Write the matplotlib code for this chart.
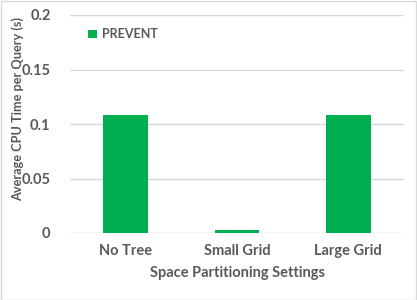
import matplotlib
matplotlib.use("Agg")
import matplotlib.pyplot as plt

categories = ["No Tree", "Small Grid", "Large Grid"]
values = [0.108, 0.003, 0.108]
series_name = "PREVENT"
yticks = [0, 0.05, 0.1, 0.15, 0.2]
ytick_labels = ["0", "0.05", "0.1", "0.15", "0.2"]

plt.rcParams['font.family'] = ['Lato', 'DejaVu Sans']
txt = "#595959"
green = "#00B050"

fig = plt.figure(figsize=(4.17, 3.0), dpi=100)
W, H = 417, 300
ax = fig.add_axes([70 / W, 1 - 233 / H, (404 - 70) / W, (233 - 15) / H])

x = range(len(categories))
ax.bar(x, values, width=0.4, color=green, label=series_name, zorder=3)
ax.set_xlim(-0.5, 2.5)
ax.set_ylim(0, 0.2)
ax.set_yticks(yticks)
ax.set_yticklabels(ytick_labels)
ax.set_xticks(list(x))
ax.set_xticklabels(categories)
ax.grid(axis='y', color='#d9d9d9', linewidth=1, zorder=0)
for s in ax.spines.values():
    s.set_visible(False)
ax.tick_params(axis='both', length=0, colors=txt, labelsize=10.5)
ax.tick_params(axis='x', pad=8)
ax.tick_params(axis='y', pad=14)
for lab in ax.get_xticklabels() + ax.get_yticklabels():
    lab.set_fontweight('bold')

ax.set_xlabel("Space Partitioning Settings", color=txt, fontsize=10.5, fontweight='bold', labelpad=6)
fig.text(18 / W, 1 - 109 / H, "Average CPU Time per Query (s)", color=txt, fontsize=9.2,
         fontweight='bold', rotation=90, ha='center', va='center')

leg = ax.legend(loc='upper left', bbox_to_anchor=(0.02, 0.99), frameon=False,
                handlelength=0.7, handleheight=0.7, handletextpad=0.4,
                prop={'weight': 'bold', 'size': 9})
for t in leg.get_texts():
    t.set_color(txt)

fig.patches.append(plt.Rectangle((0.5 / W, 0.5 / H), 1 - 1.5 / W, 1 - 1.5 / H,
                                 transform=fig.transFigure, fill=False,
                                 edgecolor='#d9d9d9', linewidth=1))

fig.savefig("out.png", dpi=100)
